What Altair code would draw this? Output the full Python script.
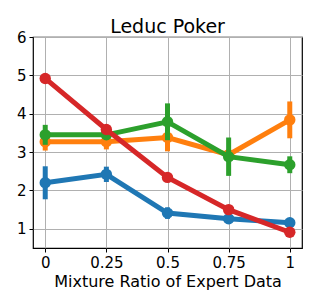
import altair as alt
import pandas as pd

x_vals = [0, 0.25, 0.5, 0.75, 1]
series_names = ["blue", "orange", "green", "red"]
colors = ["#1f77b4", "#ff7f0e", "#2ca02c", "#d62728"]
means = {
    "blue":   [2.20, 2.42, 1.41, 1.26, 1.16],
    "orange": [3.27, 3.27, 3.38, 2.93, 3.84],
    "green":  [3.45, 3.45, 3.79, 2.88, 2.67],
    "red":    [4.92, 3.59, 2.34, 1.50, 0.91],
}
errs = {
    "blue":   [0.43, 0.20, 0.15, 0.06, 0.05],
    "orange": [0.23, 0.20, 0.36, 0.08, 0.48],
    "green":  [0.26, 0.10, 0.48, 0.50, 0.22],
    "red":    [0.04, 0.04, 0.03, 0.03, 0.03],
}

rows = []
for s in series_names:
    for x, m, e in zip(x_vals, means[s], errs[s]):
        rows.append({"series": s, "x": x, "y": m, "lo": m - e, "hi": m + e})
df = pd.DataFrame(rows)

xs = alt.Scale(domain=[-0.05, 1.05], nice=False, zero=False)
ys = alt.Scale(domain=[0.5, 6], nice=False, zero=False)

xaxis = alt.Axis(values=x_vals, labelExpr="'' + datum.value", title="Mixture Ratio of Expert Data",
                 grid=True, tickSize=4, labelPadding=3, titlePadding=3)
yaxis = alt.Axis(values=[1, 2, 3, 4, 5, 6], title=None, grid=True, tickSize=4, labelPadding=3)

X = alt.X("x:Q", scale=xs, axis=xaxis)
Y = alt.Y("y:Q", scale=ys, axis=yaxis)
YLO = alt.Y("lo:Q", scale=ys, axis=yaxis)

layers = []
for i, s in enumerate(series_names):
    base = alt.Chart(df).transform_filter(alt.datum.series == s)
    err = base.mark_rule(strokeWidth=5, color=colors[i]).encode(x=X, y=YLO, y2="hi:Q")
    line = base.mark_line(strokeWidth=5, color=colors[i]).encode(x=X, y=Y)
    pts = base.mark_circle(size=130, opacity=1, color=colors[i]).encode(x=X, y=Y)
    layers += [line, err, pts]

chart = alt.layer(*layers).properties(
    width=269, height=211,
    title=alt.TitleParams("Leduc Poker", fontSize=19, font="DejaVu Sans", fontWeight="normal", offset=-7),
    autosize=alt.AutoSizeParams(type="none"),
    padding={"left": 25, "top": 29, "right": 9, "bottom": 50},
).configure_view(stroke="black", strokeWidth=1.2).configure_axis(
    labelFont="DejaVu Sans", titleFont="DejaVu Sans", labelFontSize=15, titleFontSize=16,
    titleFontWeight="normal", labelColor="black", titleColor="black",
    gridColor="#b0b0b0", gridWidth=1, domain=False, tickColor="black", tickWidth=1,
)

chart.save("out.html", embed_options={"renderer": "svg", "actions": False})
